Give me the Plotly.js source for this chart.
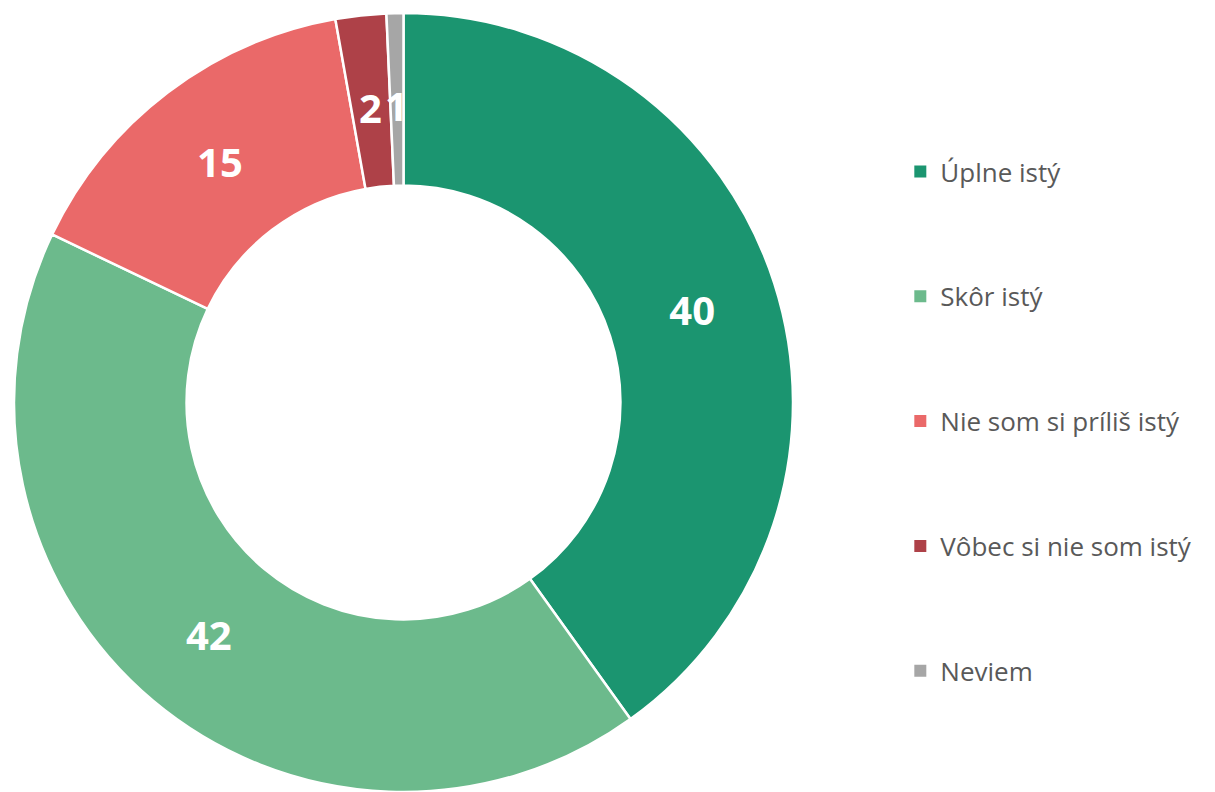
<!DOCTYPE html>
<html>
<head>
<meta charset="utf-8">
<script src="https://cdn.plot.ly/plotly-3.0.1.min.js"></script>
<style>html,body{margin:0;padding:0;background:#fff;}#chart{width:1215px;height:792px;}</style>
</head>
<body>
<div id="chart"></div>
<script>
const categories = ["Úplne istý", "Skôr istý", "Nie som si príliš istý", "Vôbec si nie som istý", "Neviem"];
const values = [40.1, 42.0, 15.1, 2.1, 0.7];
const labelsShown = ["40", "42", "15", "2", "1"];
const colors = ["#1b9570", "#6cba8c", "#ea6969", "#ae4148", "#a6a6a6"];

const domX = [14/1215, 793/1215];
const domY = [0, 779/792];
const hole = 0.557;

const pie = {
  type: "pie",
  labels: categories,
  values: values,
  text: labelsShown,
  textinfo: "text",
  textposition: ["inside", "inside", "inside", "none", "none"],
  insidetextorientation: "horizontal",
  textfont: {family: "Open Sans", size: 40, color: "#ffffff", weight: 700},
  hole: hole,
  sort: false,
  direction: "clockwise",
  rotation: 0,
  marker: {colors: colors, line: {color: "#ffffff", width: 2.5}},
  domain: {x: domX, y: domY},
  showlegend: false,
  hoverinfo: "label+value"
};

// legend entries (one per category)
const legendTraces = categories.map((c, i) => ({
  type: "scatter",
  mode: "markers",
  x: [null], y: [null],
  name: c,
  legendgroup: "g" + i,
  marker: {symbol: "square", size: 12, color: colors[i]},
  hoverinfo: "skip"
}));

// annotations for the two thin slices, computed from the data
const total = values.reduce((a, b) => a + b, 0);
const W = 1215, H = 792;
const cx = (domX[0] + domX[1]) / 2 * W;
const cy = H - (domY[0] + domY[1]) / 2 * H;
const R = (domY[1] - domY[0]) * H / 2;
const rMid = R * (1 + hole) / 2 * 0.98;
let cum = 0;
const annotations = [];
values.forEach((v, i) => {
  const mid = (cum + v / 2) / total * 2 * Math.PI;
  cum += v;
  if (i >= 3) {
    const px = cx + rMid * Math.sin(mid);
    const py = cy - rMid * Math.cos(mid);
    annotations.push({
      xref: "paper", yref: "paper",
      x: px / W, y: 1 - py / H,
      text: labelsShown[i], showarrow: false,
      xanchor: "center", yanchor: "middle",
      font: {family: "Open Sans", size: 40, color: "#ffffff", weight: 700}
    });
  }
});

const layout = {
  width: 1215, height: 792,
  margin: {l: 0, r: 0, t: 0, b: 0},
  paper_bgcolor: "#ffffff",
  plot_bgcolor: "#ffffff",
  xaxis: {visible: false, domain: [0.74, 0.75]},
  yaxis: {visible: false},
  showlegend: true,
  legend: {
    x: 0.741, y: 0.813, xanchor: "left", yanchor: "top",
    font: {family: "Open Sans", size: 26, color: "#595959"},
    tracegroupgap: 88,
    itemclick: false, itemdoubleclick: false
  },
  annotations: annotations
};

Plotly.newPlot("chart", [pie].concat(legendTraces), layout, {displayModeBar: false, staticPlot: true});
</script>
</body>
</html>
